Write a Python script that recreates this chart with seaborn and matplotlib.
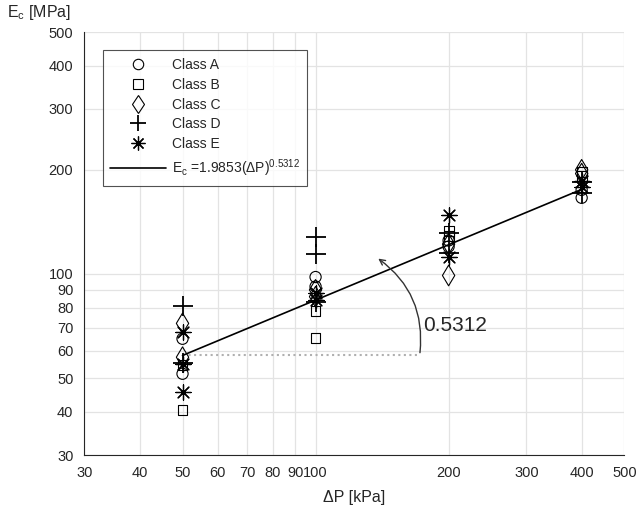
import numpy as np
import pandas as pd
import matplotlib
matplotlib.use('Agg')
import matplotlib.pyplot as plt
from matplotlib.lines import Line2D
from matplotlib.ticker import FixedLocator, FixedFormatter, NullLocator
import seaborn as sns

sns.set_style('white')
plt.rcParams['font.family'] = ['Liberation Sans', 'DejaVu Sans']
plt.rcParams['mathtext.fontset'] = 'custom'
plt.rcParams['mathtext.rm'] = 'Liberation Sans'
plt.rcParams['mathtext.it'] = 'Liberation Sans:italic'

# data
pressure_a = [50, 50, 100, 100, 200, 200, 400, 400]
class_a = [65, 51.5, 98, 92, 125, 120, 175, 166]
pressure_b = [50, 50, 100, 100, 200, 200, 400, 400]
class_b = [54.5, 40.5, 78, 65.5, 133, 129, 197, 192]
pressure_c = [50, 50, 100, 100, 200, 200, 400, 400]
class_c = [72, 57.5, 90, 86, 122, 99, 200, 195]
pressure_d = [50, 50, 100, 100, 100, 200, 200, 400, 400]
class_d = [81, 55.5, 128, 114, 83, 131, 115, 184, 171]
pressure_e = [50, 50, 50, 100, 100, 200, 200, 400, 400]
class_e = [68, 55, 45.5, 88, 84, 148, 112, 178, 186]

fit_a = 1.9853   # ln of coefficient
fit_b = 0.5312
fit_x = [50, 400]
angle_end_x = 172

x_ticks = [30, 40, 50, 60, 70, 80, 90, 100, 200, 300, 400, 500]
y_ticks = [30, 40, 50, 60, 70, 80, 90, 100, 200, 300, 400, 500]

rows = []
for name, px, ev in [('Class A', pressure_a, class_a), ('Class B', pressure_b, class_b),
                     ('Class C', pressure_c, class_c), ('Class D', pressure_d, class_d),
                     ('Class E', pressure_e, class_e)]:
    for p, e in zip(px, ev):
        rows.append({'cls': name, 'P': p, 'E': e})
df = pd.DataFrame(rows)

asterisk = (8, 2, 0)
styles = {
    'Class A': dict(marker='o', s=65, facecolor='none', edgecolor='black', linewidth=0.8),
    'Class B': dict(marker='s', s=50, facecolor='none', edgecolor='black', linewidth=0.8),
    'Class C': dict(marker='d', s=110, facecolor='none', edgecolor='black', linewidth=0.8),
    'Class D': dict(marker='+', s=200, color='black', linewidth=1.3),
    'Class E': dict(marker=asterisk, s=120, color='black', linewidth=0.9),
}

fig = plt.figure(figsize=(6.38, 5.15), dpi=100)
ax = fig.add_axes([0.1324, 0.1165, 0.8464, 0.8213])

for name, kw in styles.items():
    sub = df[df['cls'] == name]
    sns.scatterplot(data=sub, x='P', y='E', ax=ax, legend=False, zorder=3, **kw)

fit_y = [np.exp(fit_a) * x ** fit_b for x in fit_x]
sns.lineplot(x=fit_x, y=fit_y, ax=ax, color='black', linewidth=1.2, zorder=4)
ax.plot([fit_x[0], angle_end_x], [fit_y[0], fit_y[0]], linestyle=':', color='#b0b0b0',
        linewidth=1.5, zorder=2)

ax.annotate('', xy=(137, 112), xytext=(angle_end_x, fit_y[0]),
            arrowprops=dict(arrowstyle='->', color='#333333', linewidth=1.0,
                            connectionstyle='arc3,rad=0.3'), zorder=5)
ax.text(175, 71, '0.5312', fontsize=15, color='#262626', ha='left', va='center')

ax.set_xscale('log')
ax.set_yscale('log')
ax.set_xlim(30, 500)
ax.set_ylim(30, 500)
ax.xaxis.set_major_locator(FixedLocator(x_ticks))
ax.xaxis.set_major_formatter(FixedFormatter([str(t) for t in x_ticks]))
ax.xaxis.set_minor_locator(NullLocator())
ax.yaxis.set_major_locator(FixedLocator(y_ticks))
ax.yaxis.set_major_formatter(FixedFormatter([str(t) for t in y_ticks]))
ax.yaxis.set_minor_locator(NullLocator())

ax.grid(True, color='#e3e3e3', linewidth=0.9, zorder=0)
ax.set_axisbelow(True)
for side in ['top', 'right']:
    ax.spines[side].set_visible(False)
for side in ['left', 'bottom']:
    ax.spines[side].set_color('#262626')
    ax.spines[side].set_linewidth(0.8)
ax.tick_params(direction='in', length=5, width=0.8, color='#262626',
               labelsize=10.5, labelcolor='#262626', pad=8)

ax.set_xlabel('ΔP [kPa]', fontsize=11.5, color='#262626', labelpad=7)
ax.set_ylabel('E$_\\mathrm{c}$ [MPa]', fontsize=11.5, color='#262626', rotation=0,
              ha='center', va='center')
ax.yaxis.set_label_coords(-0.085, 1.045)

handles = [
    Line2D([], [], linestyle='none', marker='o', markersize=7.5, markerfacecolor='none',
           markeredgecolor='black', markeredgewidth=0.8),
    Line2D([], [], linestyle='none', marker='s', markersize=6.5, markerfacecolor='none',
           markeredgecolor='black', markeredgewidth=0.8),
    Line2D([], [], linestyle='none', marker='d', markersize=9.5, markerfacecolor='none',
           markeredgecolor='black', markeredgewidth=0.8),
    Line2D([], [], linestyle='none', marker='+', markersize=12, color='black',
           markeredgewidth=1.3),
    Line2D([], [], linestyle='none', marker=asterisk, markersize=10, color='black',
           markeredgewidth=0.9),
    Line2D([], [], color='black', linewidth=1.2),
]
labels = ['Class A', 'Class B', 'Class C', 'Class D', 'Class E',
          'E$_\\mathrm{c}$ =1.9853(ΔP)$^{0.5312}$']
leg = ax.legend(handles, labels, loc='upper left', bbox_to_anchor=(0.034, 0.957),
                borderaxespad=0, fontsize=10, frameon=True, fancybox=False,
                handlelength=4.0, handletextpad=0.4, labelspacing=0.42, borderpad=0.55)
leg.get_frame().set_edgecolor('#262626')
leg.get_frame().set_linewidth(0.8)

fig.savefig('out.png', dpi=100)
